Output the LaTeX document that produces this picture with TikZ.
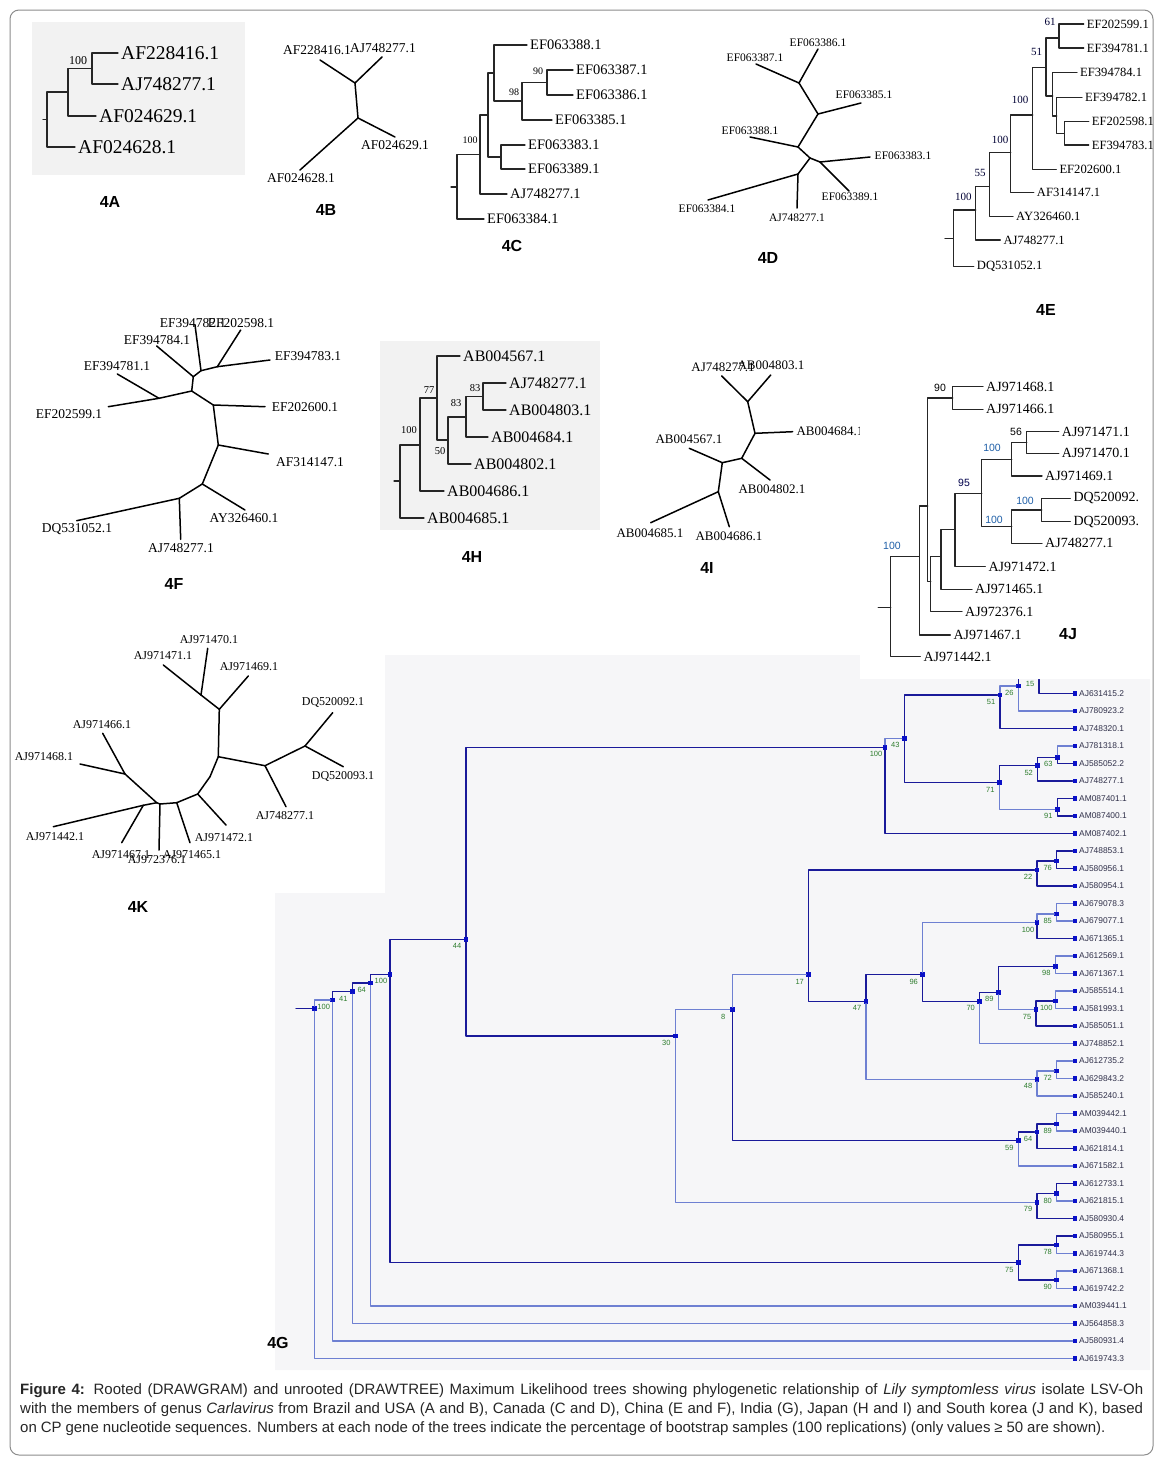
\documentclass[tikz,border=0pt]{standalone}
\usepackage{fontspec}
\setmainfont{Liberation Serif}
\setsansfont{Liberation Sans}
\usepackage{tikz}
\usetikzlibrary{calc}
\definecolor{gdark}{HTML}{1A1A9A}
\definecolor{glight}{HTML}{6E80D2}
\definecolor{gsqr}{HTML}{0A10C8}
\definecolor{ggreen}{HTML}{2E7D2E}
\definecolor{gtext}{HTML}{30304A}
\definecolor{panelgray}{HTML}{F2F2F2}
\definecolor{ggray}{HTML}{F6F6F8}
\definecolor{bsblue}{HTML}{2060A8}

\begin{document}
\begin{tikzpicture}[x=1pt, y=-1pt, line cap=round, line join=round]
\tikzstyle{rtree}=[draw=black!85, line width=1.3pt]
\tikzstyle{utree}=[draw=black, line width=1.5pt]
\tikzstyle{leaf}=[anchor=west, inner sep=0pt, inner xsep=3pt]
\tikzstyle{ulab}=[inner sep=0pt]
\tikzstyle{panel}=[inner sep=0pt, font=\sffamily\bfseries\fontsize{16}{18}\selectfont]
\tikzstyle{boot}=[inner sep=0pt, font=\fontsize{11}{12}\selectfont]
\tikzstyle{gsq}=[fill=gsqr, minimum size=4.5pt, inner sep=0pt]
\tikzstyle{glab}=[anchor=west, inner sep=0pt, font=\sffamily\fontsize{8.4}{10}\selectfont, text=gtext]
\tikzstyle{gbs}=[inner sep=0pt, font=\sffamily\fontsize{7.5}{9}\selectfont, text=ggreen]
\tikzstyle{gdk}=[draw=gdark, line width=1.1pt]
\tikzstyle{glt}=[draw=glight, line width=1.1pt]
\tikzstyle{caption}=[anchor=north west, inner sep=0pt, text width=1123pt, align=justify, text=black!85, font=\sffamily\fontsize{15}{19}\selectfont]
\useasboundingbox (0,0) rectangle (1163,1465);

% grey panels
\fill[panelgray] (32,22) rectangle (245,175);
\fill[panelgray] (380,341) rectangle (600,530);
\fill[ggray] (385,655) -- (860,655) -- (860,678) -- (1150,678) -- (1150,1370) -- (275,1370) -- (275,893) -- (385,893) -- cycle;

% 4A
\tikzstyle{leafA}=[leaf, font=\fontsize{19.5}{22}\selectfont]
\node[leafA] (a1) at (118,53) {AF228416.1};
\node[leafA] (a2) at (118,84) {AJ748277.1};
\node[leafA] (a3) at (96,116) {AF024629.1};
\node[leafA] (a4) at (75,147) {AF024628.1};
\coordinate (a100n) at (92,68.5);
\coordinate (ax) at (68,92);
\coordinate (ar) at (47,119.5);
\coordinate (ast) at (43,119.5);
\foreach \p/\c in {a100n/a1, a100n/a2, ax/a100n, ax/a3, ar/ax, ar/a4}
  \draw[rtree] (\p) |- (\c);
\draw[rtree] (ast) -- (ar);
\node[boot, font=\fontsize{12}{13}\selectfont] (a100b) at (78,61) {100};
\node[panel] (pA) at (110,202) {4A};

% 4B
\tikzstyle{ulabB}=[ulab, font=\fontsize{13.5}{15}\selectfont]
\coordinate (b1) at (320,60);
\coordinate (b2) at (382,57);
\coordinate (bP) at (355,83);
\coordinate (bQ) at (358,118);
\coordinate (b3) at (395,137);
\coordinate (b4) at (300,170);
\foreach \a/\b in {bP/b1, bP/b2, bP/bQ, bQ/b3, bQ/b4}
  \draw[utree] (\a) -- (\b);
\node[ulabB] (bt1) at (317,50) {AF228416.1};
\node[ulabB] (bt2) at (383,48) {AJ748277.1};
\node[ulabB] (bt3) at (395,145) {AF024629.1};
\node[ulabB] (bt4) at (301,178) {AF024628.1};
\node[panel] (pB) at (326,210) {4B};

% 4C
\tikzstyle{leafC}=[leaf, font=\fontsize{14.5}{16}\selectfont]
\node[leafC] (c88) at (527,45) {EF063388.1};
\node[leafC] (c87) at (573,70) {EF063387.1};
\node[leafC] (c86) at (573,95) {EF063386.1};
\node[leafC] (c85) at (552,120) {EF063385.1};
\node[leafC] (c83) at (525,145) {EF063383.1};
\node[leafC] (c89) at (525,169) {EF063389.1};
\node[leafC] (cAJ) at (507,194) {AJ748277.1};
\node[leafC] (c84) at (484,219) {EF063384.1};
\coordinate (c90n) at (547,82.5);
\coordinate (c98n) at (522,101);
\coordinate (cY) at (494,73);
\coordinate (cZ) at (501,157);
\coordinate (cX) at (488,115);
\coordinate (c100n) at (480,154.5);
\coordinate (cr) at (457,187);
\coordinate (cs) at (451,187);
\foreach \p/\c in {c90n/c87, c90n/c86, c98n/c90n, c98n/c85, cY/c88, cY/c98n, cZ/c83, cZ/c89, cX/cY, cX/cZ, c100n/cX, c100n/cAJ, cr/c100n, cr/c84}
  \draw[rtree] (\p) |- (\c);
\draw[rtree] (cs) -- (cr);
\node[boot, font=\fontsize{10}{11}\selectfont] (c90b) at (538,71) {90};
\node[boot, font=\fontsize{10}{11}\selectfont] (c98b) at (514,92) {98};
\node[boot, font=\fontsize{10}{11}\selectfont] (c100b) at (470,140) {100};
\node[panel] (pC) at (512,246) {4C};

% 4D
\tikzstyle{ulabD}=[ulab, font=\fontsize{11.5}{13}\selectfont]
\coordinate (d86) at (818,49);
\coordinate (dA) at (799,83);
\coordinate (d87) at (756,64);
\coordinate (dB) at (818,114);
\coordinate (d85) at (861,103);
\coordinate (dC) at (798,147);
\coordinate (d88) at (750,137);
\coordinate (dD) at (810,158);
\coordinate (dE) at (820,162);
\coordinate (d83) at (870,157);
\coordinate (d89) at (849,191);
\coordinate (dF) at (798,174);
\coordinate (d84) at (708,200);
\coordinate (dAJ) at (797,208);
\foreach \a/\b in {dA/d86, dA/d87, dA/dB, dB/d85, dB/dC, dC/d88, dC/dD, dD/dE, dE/d83, dE/d89, dD/dF, dF/d84, dF/dAJ}
  \draw[utree] (\a) -- (\b);
\node[ulabD] (dt86) at (818,43) {EF063386.1};
\node[ulabD] (dt87) at (755,58) {EF063387.1};
\node[ulabD] (dt85) at (864,95) {EF063385.1};
\node[ulabD] (dt88) at (750,131) {EF063388.1};
\node[ulabD] (dt83) at (903,156) {EF063383.1};
\node[ulabD] (dt89) at (850,197) {EF063389.1};
\node[ulabD] (dtAJ) at (797,218) {AJ748277.1};
\node[ulabD] (dt84) at (707,209) {EF063384.1};
\node[panel] (pD) at (768,258) {4D};

% 4E
\tikzstyle{leafE}=[leaf, font=\fontsize{12.6}{14}\selectfont]
\node[leafE] (e99) at (1083.7,24) {EF202599.1};
\node[leafE] (e81) at (1083.7,48) {EF394781.1};
\node[leafE] (e84) at (1077,72.3) {EF394784.1};
\node[leafE] (e82) at (1082,97.3) {EF394782.1};
\node[leafE] (e98) at (1088.7,121.7) {EF202598.1};
\node[leafE] (e83) at (1088.7,145) {EF394783.1};
\node[leafE] (e600) at (1056.3,169.3) {EF202600.1};
\node[leafE] (e147) at (1033.7,192.7) {AF314147.1};
\node[leafE] (e460) at (1013,216.7) {AY326460.1};
\node[leafE] (eAJ) at (1000.3,240) {AJ748277.1};
\node[leafE] (eDQ) at (973.7,266.7) {DQ531052.1};
\coordinate (e61n) at (1059,38);
\coordinate (eA) at (1064.3,133.3);
\coordinate (eB) at (1056.7,116);
\coordinate (eC) at (1052.7,96);
\coordinate (e51n) at (1046,67.3);
\coordinate (e100a) at (1032.7,115);
\coordinate (e100b) at (1010.7,152.7);
\coordinate (e55n) at (989.3,186.7);
\coordinate (e100c) at (975.7,210);
\coordinate (er) at (953.3,238.3);
\coordinate (es) at (945,238.3);
\foreach \p/\c in {e61n/e99, e61n/e81, eA/e98, eA/e83, eB/e82, eB/eA, eC/e84, eC/eB, e51n/e61n, e51n/eC, e100a/e51n, e100a/e600, e100b/e100a, e100b/e147, e55n/e100b, e55n/e460, e100c/e55n, e100c/eAJ, er/e100c, er/eDQ}
  \draw[rtree] (\p) |- (\c);
\draw[rtree] (es) -- (er);
\foreach \n/\x/\y/\b in {e61b/1050/21.7/61, e51b/1036.7/51.7/51, e100ab/1020/100/100, e100bb/1000/140/100, e55b/980/173.3/55, e100cb/963.3/196.7/100}
  \node[boot, text=black!80!blue] (\n) at (\x,\y) {\b};
\node[panel] (pE) at (1046,310) {4E};

% 4F
\tikzstyle{ulabF}=[ulab, font=\fontsize{13.5}{15}\selectfont]
\coordinate (fT82) at (195,325);
\coordinate (fT98) at (240.7,330);
\coordinate (fT83) at (270,360);
\coordinate (fN1) at (217.3,366.7);
\coordinate (fN2) at (201,370.7);
\coordinate (fT84) at (156.7,346);
\coordinate (fN3) at (193.3,376.7);
\coordinate (fN4) at (191.7,391);
\coordinate (fT81) at (117.3,374);
\coordinate (fT99) at (108.3,406.7);
\coordinate (fN5) at (159,398.3);
\coordinate (fN6) at (213.3,405);
\coordinate (fT600) at (265,406.7);
\coordinate (fN7) at (218.3,445);
\coordinate (fT147) at (268.3,454);
\coordinate (fN8) at (202.3,484);
\coordinate (fT460) at (245,510);
\coordinate (fN9) at (179.3,498.3);
\coordinate (fTDQ) at (76.7,520.7);
\coordinate (fTAJ) at (180.7,539.3);
\foreach \a/\b in {fN2/fT82, fN1/fT98, fN1/fT83, fN1/fN2, fN2/fN3, fN3/fT84, fN3/fN4, fN4/fN5, fN5/fT81, fN5/fT99, fN4/fN6, fN6/fT600, fN6/fN7, fN7/fT147, fN7/fN8, fN8/fT460, fN8/fN9, fN9/fTDQ, fN9/fTAJ}
  \draw[utree] (\a) -- (\b);
\node[ulabF] (ft82) at (193,323) {EF394782.1};
\node[ulabF] (ft98) at (241,323) {EF202598.1};
\node[ulabF] (ft84) at (157,340) {EF394784.1};
\node[ulabF] (ft81) at (117,366) {EF394781.1};
\node[ulabF] (ft83) at (308,356) {EF394783.1};
\node[ulabF] (ft99) at (69,414) {EF202599.1};
\node[ulabF] (ft600) at (305,407) {EF202600.1};
\node[ulabF] (ft147) at (310,462) {AF314147.1};
\node[ulabF] (ft460) at (244,518) {AY326460.1};
\node[ulabF] (ftDQ) at (77,529) {DQ531052.1};
\node[ulabF] (ftAJ) at (181,548) {AJ748277.1};
\node[panel] (pF) at (174,584) {4F};

% 4H
\tikzstyle{leafH}=[leaf, font=\fontsize{16}{18}\selectfont]
\node[leafH] (h67) at (460,356) {AB004567.1};
\node[leafH] (h77l) at (506,383) {AJ748277.1};
\node[leafH] (h03) at (506,410) {AB004803.1};
\node[leafH] (h84) at (488,437) {AB004684.1};
\node[leafH] (h02) at (471,464) {AB004802.1};
\node[leafH] (h86) at (444,491) {AB004686.1};
\node[leafH] (h85) at (424,518) {AB004685.1};
\coordinate (h83a) at (483,396.5);
\coordinate (h83b) at (466,417);
\coordinate (h50n) at (448,440);
\coordinate (h77n) at (437,398);
\coordinate (h100n) at (420,445);
\coordinate (hr) at (400,481);
\coordinate (hs) at (394,481);
\foreach \p/\c in {h83a/h77l, h83a/h03, h83b/h83a, h83b/h84, h50n/h83b, h50n/h02, h77n/h67, h77n/h50n, h100n/h77n, h100n/h86, hr/h100n, hr/h85}
  \draw[rtree] (\p) |- (\c);
\draw[rtree] (hs) -- (hr);
\foreach \n/\x/\y/\b in {h77b/429/390/77, h83ab/475/388/83, h83bb/456/403/83, h100b/409/430/100, h50b/440/451/50}
  \node[boot, font=\fontsize{10.5}{12}\selectfont] (\n) at (\x,\y) {\b};
\node[panel] (pH) at (472,557) {4H};

% 4I
\tikzstyle{ulabI}=[ulab, font=\fontsize{13}{15}\selectfont]
\coordinate (iT77) at (721.7,376);
\coordinate (iT03) at (770.7,375);
\coordinate (iP) at (747.7,401.7);
\coordinate (iQ) at (755,433.3);
\coordinate (iT84) at (792.7,431.7);
\coordinate (iR) at (741.7,458.3);
\coordinate (iT02) at (770,480);
\coordinate (iS) at (722.3,462.7);
\coordinate (iT67) at (689.3,448.3);
\coordinate (iU) at (718.3,491.7);
\coordinate (iT85) at (650.7,522.7);
\coordinate (iT86) at (729.3,526.7);
\foreach \a/\b in {iP/iT77, iP/iT03, iP/iQ, iQ/iT84, iQ/iR, iR/iT02, iR/iS, iS/iT67, iS/iU, iU/iT85, iU/iT86}
  \draw[utree] (\a) -- (\b);
\node[ulabI] (it77) at (723,367) {AJ748277.1};
\node[ulabI] (it03) at (771,365) {AB004803.1};
\node[ulabI] (it84) at (830,431) {AB004684.1};
\node[ulabI] (it67) at (689,439) {AB004567.1};
\node[ulabI] (it02) at (772,489) {AB004802.1};
\node[ulabI] (it85) at (650,533) {AB004685.1};
\node[ulabI] (it86) at (729,536) {AB004686.1};
\node[panel] (pI) at (707,568) {4I};

% 4K
\tikzstyle{ulabK}=[ulab, font=\fontsize{12}{14}\selectfont]
\coordinate (kT70) at (207.7,648.3);
\coordinate (kT71) at (163.3,665);
\coordinate (kA) at (201,695);
\coordinate (kB) at (219.3,709.3);
\coordinate (kT69) at (248.3,676);
\coordinate (kC) at (218.3,756.7);
\coordinate (kD) at (265,765.7);
\coordinate (kE) at (305,746);
\coordinate (kT92) at (332.7,712.7);
\coordinate (kT93) at (343.3,766.7);
\coordinate (kT77) at (286,806.7);
\coordinate (kC2) at (210,776.7);
\coordinate (kF) at (197.7,794);
\coordinate (kT72) at (226,825);
\coordinate (kG) at (176.7,802.7);
\coordinate (kT65) at (190,842.7);
\coordinate (kH) at (160,804);
\coordinate (kT76) at (159,850);
\coordinate (kI) at (156.7,802.7);
\coordinate (kJ) at (143.3,805.3);
\coordinate (kT67) at (121.7,842.7);
\coordinate (kT42) at (53.3,826.7);
\coordinate (kK) at (125,774);
\coordinate (kT68) at (80,764);
\coordinate (kT66) at (102.7,733.3);
\foreach \a/\b in {kA/kT70, kA/kT71, kA/kB, kB/kT69, kB/kC, kC/kD, kD/kE, kE/kT92, kE/kT93, kD/kT77, kC/kC2, kC2/kF, kF/kT72, kF/kG, kG/kT65, kG/kH, kH/kT76, kH/kI, kI/kJ, kJ/kT42, kJ/kT67, kI/kK, kK/kT68, kK/kT66}
  \draw[utree] (\a) -- (\b);
\node[ulabK] (kt70) at (209,640) {AJ971470.1};
\node[ulabK] (kt71) at (163,656) {AJ971471.1};
\node[ulabK] (kt69) at (249,667) {AJ971469.1};
\node[ulabK] (kt92) at (333,702) {DQ520092.1};
\node[ulabK] (kt93) at (343,776) {DQ520093.1};
\node[ulabK] (kt77) at (285,816) {AJ748277.1};
\node[ulabK] (kt66) at (102,725) {AJ971466.1};
\node[ulabK] (kt68) at (44,757) {AJ971468.1};
\node[ulabK] (kt42) at (55,837) {AJ971442.1};
\node[ulabK] (kt67) at (121,855) {AJ971467.1};
\node[ulabK] (kt76) at (157,860) {AJ972376.1};
\node[ulabK] (kt65) at (192,855) {AJ971465.1};
\node[ulabK] (kt72) at (224,838) {AJ971472.1};
\node[panel] (pK) at (138,907) {4K};

% 4G
\foreach \i/\t in {0/AJ631416.2, 1/AJ631415.2, 2/AJ780923.2, 3/AJ748320.1, 4/AJ781318.1, 5/AJ585052.2, 6/AJ748277.1, 7/AM087401.1, 8/AM087400.1, 9/AM087402.1, 10/AJ748853.1, 11/AJ580956.1, 12/AJ580954.1, 13/AJ679078.3, 14/AJ679077.1, 15/AJ671365.1, 16/AJ612569.1, 17/AJ671367.1, 18/AJ585514.1, 19/AJ581993.1, 20/AJ585051.1, 21/AJ748852.1, 22/AJ612735.2, 23/AJ629843.2, 24/AJ585240.1, 25/AM039442.1, 26/AM039440.1, 27/AJ621814.1, 28/AJ671582.1, 29/AJ612733.1, 30/AJ621815.1, 31/AJ580930.4, 32/AJ580955.1, 33/AJ619744.3, 34/AJ671368.1, 35/AJ619742.2, 36/AM039441.1, 37/AJ564858.3, 38/AJ580931.4, 39/AJ619743.3} {
  \node[gsq] (gl\i) at (1075,676+17.5*\i) {};
  \node[glab] (gt\i) at (1079,676+17.5*\i) {\t};
}
\node[gsq] (gr) at (314.3,1008.7) {};
\foreach \n/\x/\y/\b in {g100e/332.7/1000/100, g41/352.3/991.7/41, g64b/370.7/983/64, g100d/390/974.3/100, g44/466/939.3/44, g100a/885/747.3/100, g43/904.3/738.3/43, g51/1000/695/51, g26/1018.3/686/26, g15/1039/677/15, g71/999.3/782.7/71, g52/1037.7/765.7/52, g63/1057.3/757.3/63, g91/1057.3/809.3/91, g30/675.3/1036/30, g8/732.3/1009.7/8, g17/808.7/974.7/17, g22/1037/870/22, g76/1056.7/861/76, g47/866/1001.3/47, g96/922.7/974.7/96, g100b/1037/922.7/100, g85/1056.7/914/85, g70/979.7/1001.3/70, g89/998.3/992.3/89, g98/1055.3/966.3/98, g75b/1036/1009.7/75, g100c/1055.3/1001/100, g48/1037/1079.3/48, g72/1056.7/1071/72, g59/1018.3/1140.7/59, g64/1037/1132/64, g89b/1056.7/1124/89, g79/1037/1202.3/79, g80/1056.7/1193.7/80, g75c/1018.3/1262.7/75, g78/1056.7/1245/78, g90/1056.7/1280/90} {
  \node[gsq] (\n) at (\x,\y) {};
  \node[gbs] (\n-b) at (\x-9,\y+7) {\b};
}
\coordinate (gstub) at (296,1008.7);
\draw[gdk] (gstub) -- (gr);
\foreach \p/\c/\s in {gr/g100e/glt, gr/gl39/glt, g100e/g41/gdk, g100e/gl38/glt, g41/g64b/gdk, g41/gl37/glt, g64b/g100d/gdk, g64b/gl36/glt, g100d/g44/gdk, g100d/g75c/gdk, g44/g100a/gdk, g44/g30/gdk, g100a/g43/glt, g100a/gl9/gdk, g43/g51/gdk, g43/g71/gdk, g51/g26/glt, g51/gl3/gdk, g26/g15/gdk, g26/gl2/glt, g15/gl0/gdk, g15/gl1/gdk, g71/g52/gdk, g71/g91/glt, g52/g63/gdk, g52/gl6/gdk, g63/gl4/glt, g63/gl5/gdk, g91/gl7/gdk, g91/gl8/gdk, g30/g8/glt, g30/g79/glt, g8/g17/glt, g8/g59/gdk, g17/g22/gdk, g17/g47/gdk, g22/g76/gdk, g22/gl12/gdk, g76/gl10/gdk, g76/gl11/gdk, g47/g96/gdk, g47/g48/glt, g96/g100b/glt, g96/g70/gdk, g100b/g85/glt, g100b/gl15/gdk, g85/gl13/glt, g85/gl14/glt, g70/g89/gdk, g70/gl21/glt, g89/g98/gdk, g89/g75b/glt, g98/gl16/glt, g98/gl17/glt, g75b/g100c/gdk, g75b/gl20/gdk, g100c/gl18/glt, g100c/gl19/glt, g48/g72/glt, g48/gl24/glt, g72/gl22/glt, g72/gl23/glt, g59/g64/gdk, g59/gl28/glt, g64/g89b/gdk, g64/gl27/gdk, g89b/gl25/glt, g89b/gl26/glt, g79/g80/gdk, g79/gl31/gdk, g80/gl29/gdk, g80/gl30/glt, g75c/g78/gdk, g75c/g90/gdk, g78/gl32/gdk, g78/gl33/glt, g90/gl34/glt, g90/gl35/glt}
  \draw[\s] (\p) |- (\c);
\node[panel] (pG) at (278,1343) {4G};

% 4J (white panel over the top of 4G)
\fill[white] (860,370) rectangle (1151,679);
\tikzstyle{leafJ}=[leaf, font=\fontsize{14}{16}\selectfont]
\node[leafJ] (j68) at (983,386.7) {AJ971468.1};
\node[leafJ] (j66) at (983,409.3) {AJ971466.1};
\node[leafJ] (j71) at (1058.7,431.7) {AJ971471.1};
\node[leafJ] (j70) at (1058.7,453.3) {AJ971470.1};
\node[leafJ] (j69) at (1042,476) {AJ971469.1};
\node[leafJ] (j92) at (1070.3,498.3) {DQ520092.};
\node[leafJ] (j93) at (1070.3,521.7) {DQ520093.};
\node[leafJ] (jAJ) at (1042,543.3) {AJ748277.1};
\node[leafJ] (j72) at (985.3,566.7) {AJ971472.1};
\node[leafJ] (j65) at (972,589.3) {AJ971465.1};
\node[leafJ] (j76) at (962,611.7) {AJ972376.1};
\node[leafJ] (j67) at (950.3,635) {AJ971467.1};
\node[leafJ] (j42) at (920.3,656.7) {AJ971442.1};
\coordinate (j90n) at (952.7,398);
\coordinate (j56n) at (1026.7,442.5);
\coordinate (j100a) at (1011.7,459.3);
\coordinate (j100c) at (1041.7,510);
\coordinate (j100b) at (1011.7,526.7);
\coordinate (j95n) at (981.7,493.3);
\coordinate (jx) at (955,529.3);
\coordinate (jy) at (941,556.7);
\coordinate (jz) at (930.7,581.7);
\coordinate (jw) at (927.7,506);
\coordinate (jv) at (919.3,556.7);
\coordinate (j100r) at (890.7,607.3);
\coordinate (js) at (878.3,607.3);
\foreach \p/\c in {j90n/j68, j90n/j66, j56n/j71, j56n/j70, j100a/j56n, j100a/j69, j100c/j92, j100c/j93, j100b/j100c, j100b/jAJ, j95n/j100a, j95n/j100b, jx/j95n, jx/j72, jy/jx, jy/j65, jz/jy, jz/j76, jw/j90n, jw/jz, jv/jw, jv/j67, j100r/jv, j100r/j42}
  \draw[rtree] (\p) |- (\c);
\draw[rtree] (js) -- (j100r);
\foreach \n/\x/\y/\b/\c in {j90b/940/388/90/black, j56b/1016/432/56/black, j100ab/992/448/100/bsblue, j95b/964/483/95/black!70!blue, j100cb/1025/501/100/bsblue, j100bb/994/520/100/bsblue, j100rb/892/546/100/bsblue}
  \node[boot, font=\sffamily\fontsize{10.5}{12}\selectfont, text=\c] (\n) at (\x,\y) {\b};
\node[panel] (pJ) at (1068,634) {4J};

% caption and frame
\node[caption] (cap) at (20,1383) {\spaceskip=0.26em plus 0.6em minus 0.12em\relax
\textbf{Figure 4:} Rooted (DRAWGRAM) and unrooted (DRAWTREE) Maximum Likelihood trees showing phylogenetic relationship of \textit{Lily symptomless virus} isolate LSV-Oh\linebreak with the members of genus \textit{Carlavirus} from Brazil and USA (A and B), Canada (C and D), China (E and F), India (G), Japan (H and I) and South korea (J and K), based\linebreak on CP gene nucleotide sequences. Numbers at each node of the trees indicate the percentage of bootstrap samples (100 replications) (only values ≥ 50 are shown).};
\draw[black!45, line width=1pt, rounded corners=9pt] (10,10) rectangle (1153,1455);
\end{tikzpicture}
\end{document}
